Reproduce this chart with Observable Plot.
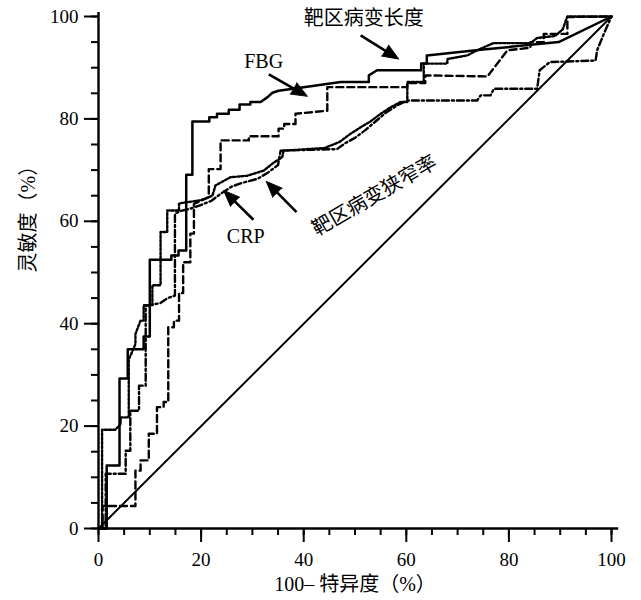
<!DOCTYPE html>
<html><head><meta charset="utf-8">
<script src="https://cdn.jsdelivr.net/npm/d3@7"></script>
<script src="https://cdn.jsdelivr.net/npm/@observablehq/plot@0.6"></script>
<style>body{margin:0;background:#fff}</style>
</head><body><div id="chart"></div>
<script>
// ---- data ----
const fbg = [[0,0],[1.6,0],[1.6,12.3],[4.1,12.3],[4.1,29.3],[5.7,29.3],[5.7,35],[8.8,35],[8.8,37.5],[10,37.5],[10,52.5],[14.2,52.5],[14.2,53.3],[15.6,53.3],[15.6,54.3],[17.1,54.3],[17.1,69.1],[18.3,69.1],[18.3,79.5],[21.6,79.5],[21.6,80.3],[23.1,80.3],[23.1,81],[25.4,81],[25.4,81.8],[27.5,81.8],[27.5,82.8],[29.6,82.8],[29.6,83.3],[31.6,83.3],[32.9,84.2],[33.9,85.1],[35.1,85.5],[40,86.2],[47.2,87.2],[52.7,87.2],[52.7,88.5],[54.3,89.5],[62.9,89.5],[62.9,90.8],[64,90.8],[64,92.4],[74.5,93.5],[89.7,95],[100,100]];
const lesionLength = [[0,0],[0.8,0],[0.8,4.4],[7.2,4.4],[7.2,11.3],[8.2,11.3],[8.2,13.3],[9.8,13.3],[9.8,18.5],[11.4,18.5],[11.4,23.7],[12.7,23.7],[12.7,24.7],[13.6,24.7],[13.6,39.3],[14.7,39.3],[14.7,40.6],[15.7,40.6],[15.7,46],[16.5,46],[16.5,52],[17.9,52],[17.9,57.6],[18.6,57.6],[18.6,63.4],[21.5,64.7],[21.5,70.2],[23.8,70.2],[23.8,75.8],[29.3,75.8],[29.3,76.6],[35.1,76.6],[35.1,78.1],[36.2,78.1],[36.2,79],[38.4,79],[38.4,81],[44.6,81.6],[44.6,86.2],[60.2,86.2],[60.2,87],[63.7,87],[63.7,88.5],[75.8,88.3],[77.5,90.5],[79.7,93.4],[84.2,93.9],[84.2,95],[86.8,95],[86.8,96.6],[91.4,96.6],[91.4,99.9],[100,100]];
const crp = [[0,0],[0.7,0],[0.7,19.3],[3.3,19.3],[4.3,20.4],[4.3,21.7],[5.9,21.7],[5.9,33],[7.2,36],[7.2,38],[8.2,40.6],[8.8,40.6],[8.8,43.6],[10.5,43.6],[10.5,47.5],[12.1,47.5],[12.1,57.9],[13.4,57.9],[13.4,62.1],[15.7,62.1],[15.7,63.5],[19.9,64.1],[22.2,65],[22.8,67],[25.7,68.6],[29,68.9],[32.2,69.9],[34.2,71.5],[35.8,72.5],[36.1,73.8],[44,74.3],[47,75.5],[49,77],[51,78.3],[53,79.5],[55,81],[57,82.3],[58.9,83.3],[60.2,83.3],[60.2,87.2],[63.4,87.2],[63.4,90.8],[68,90.8],[68,91.7],[71.9,92.4],[74,93.5],[77,94.8],[84.2,94.8],[85.5,95.8],[89,96.2],[90.5,97.5],[91.2,99.5],[91.4,100],[100,100]];
const stenosis = [[0,0],[1.4,0],[1.4,10.7],[5.3,10.7],[5.3,15.2],[6.2,15.2],[6.2,23],[7.9,23],[7.9,27.9],[9.2,27.9],[9.2,43.5],[12,44],[13.5,45],[14.9,45.5],[14.9,61.5],[16,62],[18,62.5],[19.5,63],[22,64],[24,65.5],[26,66.8],[28,67.5],[31,68.3],[33,69.5],[35,71],[35.5,73.8],[46.5,74.1],[48,75.2],[50,76.3],[52,77.8],[54,79.5],[56,81.2],[58.5,82.8],[60.2,83.6],[73.8,83.6],[74.5,84.6],[76.4,84.6],[77.1,85.9],[85.5,85.9],[86,89.5],[88,91.1],[96.9,91.4],[97.2,93.4],[98.5,96.6],[100,100]];
const diagonal = [[0,0],[100,100]];

const majorTicks = [0,20,40,60,80,100];
const minorTicks = d3.range(0,101,5);

const xTitle = "100– 特异度（%）";
const yTitle = "灵敏度（%）";

const labels = [
  {text:"靶区病变长度", x:51.7, y:99.5, rotate:0},
  {text:"FBG", x:32.2, y:91.25, rotate:0},
  {text:"CRP", x:28.7, y:57.1, rotate:0},
  {text:"靶区病变狭窄率", x:53.8, y:65, rotate:-30}
];
const arrows = [
  {x1:51.1, y1:96.3, x2:58.5, y2:91.7},
  {x1:33.2, y1:88.7, x2:40.7, y2:84.4},
  {x1:30.2, y1:60.3, x2:24.4, y2:66.0},
  {x1:38.6, y1:61.8, x2:32.7, y2:67.8}
];

// ---- layout ----
const W=641, H=600, ML=98, MR=30, MT=16, MB=72;
const kx=(W-ML-MR)/100, ky=(H-MT-MB)/100;
const serif = '"Liberation Serif","Noto Sans CJK SC",serif';
const pts = a => a.map(([x,y]) => ({x,y}));

const headLen = 16;
const heads = arrows.map(a => {
  const dxp=(a.x2-a.x1)*kx, dyp=(a.y2-a.y1)*ky, len=Math.hypot(dxp,dyp);
  const ux=dxp/len, uy=dyp/len;
  return {x1:a.x1, y1:a.y1, x2:a.x2, y2:a.y2,
          bx:a.x2-ux*(headLen-3)/kx, by:a.y2-uy*(headLen-3)/ky,
          rotate:Math.atan2(dxp,dyp)*180/Math.PI};
});

const lineOpts = {x:"x", y:"y", stroke:"#000", strokeWidth:2.4, curve:"linear"};

const plot = Plot.plot({
  width:W, height:H, marginLeft:ML, marginRight:MR, marginTop:MT, marginBottom:MB,
  x:{domain:[0,100]}, y:{domain:[0,100]},
  style:{fontFamily:serif, color:"#000", background:"#fff", overflow:"visible"},
  marks:[
    Plot.line(pts(diagonal), {...lineOpts, strokeWidth:2}),
    Plot.line(pts(stenosis), {...lineOpts, strokeDasharray:"7,3,2,3"}),
    Plot.line(pts(crp), {...lineOpts, strokeDasharray:"2.2,2"}),
    Plot.line(pts(lesionLength), {...lineOpts, strokeDasharray:"7,4"}),
    Plot.line(pts(fbg), {...lineOpts, strokeWidth:2.5}),
    Plot.ruleY([0], {x1:()=>0, x2:()=>101.4, strokeWidth:2.4}),
    Plot.ruleX([0], {y1:()=>0, y2:()=>100.8, strokeWidth:2.4}),
    Plot.axisX(minorTicks, {tickSize:7, tickFormat:()=>"", strokeWidth:2, label:null}),
    Plot.axisX(majorTicks, {tickSize:14, tickPadding:10, strokeWidth:2, fontSize:19, fontFamily:serif, label:null}),
    Plot.axisY(minorTicks, {tickSize:7, tickFormat:()=>"", strokeWidth:2, label:null}),
    Plot.axisY(majorTicks, {tickSize:14, tickPadding:6, strokeWidth:2, fontSize:19, fontFamily:serif, label:null}),
    Plot.text([yTitle], {text:d=>d, frameAnchor:"left", dx:-70, rotate:-90, fontSize:20, fontFamily:serif, fill:"#000"}),
    Plot.text([xTitle], {text:d=>d, frameAnchor:"bottom", dy:62, fontSize:20, fontFamily:serif, fill:"#000"}),
    Plot.link(heads, {x1:"x1", y1:"y1", x2:"bx", y2:"by", stroke:"#000", strokeWidth:2.6}),
    Plot.vector(heads, {x:"x2", y:"y2", rotate:"rotate", length:headLen, r:6.5, shape:"spike", anchor:"end",
                        fill:"#000", fillOpacity:1, stroke:"#000", strokeWidth:1}),
    Plot.text(labels, {x:"x", y:"y", text:"text", rotate:"rotate", fontSize:20, fontFamily:serif, fill:"#000", textAnchor:"middle", lineAnchor:"middle"})
  ]
});
document.getElementById("chart").append(plot);
</script>
</body></html>
